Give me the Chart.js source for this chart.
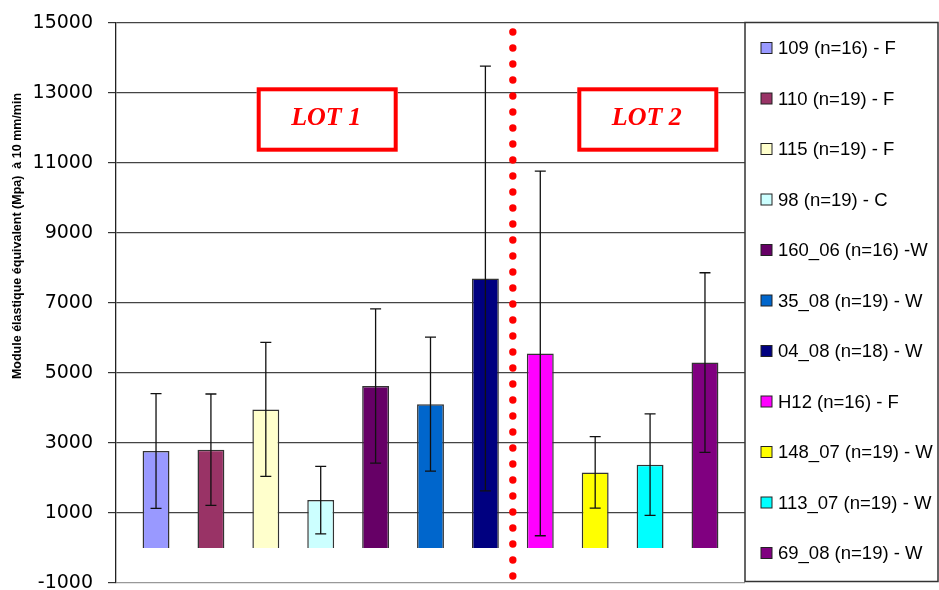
<!DOCTYPE html>
<html>
<head>
<meta charset="utf-8">
<script src="https://cdn.jsdelivr.net/npm/chart.js@4.4.1/dist/chart.umd.min.js"></script>
<style>
  html, body { margin: 0; padding: 0; background: #fff; }
  #wrap { width: 939px; height: 590px; position: relative; }
</style>
</head>
<body>
<div id="wrap"><canvas id="chart-bars"></canvas></div>
<script>
// Data
var seriesLabels = ['109 (n=16) - F', '110 (n=19) - F', '115 (n=19) - F', '98 (n=19) - C',
  '160_06 (n=16) -W', '35_08 (n=19) - W', '04_08 (n=18) - W', 'H12 (n=16) - F',
  '148_07 (n=19) - W', '113_07 (n=19) - W', '69_08 (n=19) - W'];
var means   = [2770, 2810, 3960, 1370, 4630, 4110, 7700, 5560, 2160, 2380, 5300];
var stdDevs = [1640, 1590, 1915, 965, 2205, 1915, 6070, 5210, 1020, 1450, 2565];
var colors  = ['#9999FF', '#993366', '#FFFFCC', '#CCFFFF', '#660066', '#0066CC',
  '#000080', '#FF00FF', '#FFFF00', '#00FFFF', '#800080'];
var lotLabels = ['LOT 1', 'LOT 2'];
var lotSplitAfter = 6; // index of last series in LOT 1
var yMin = -1000, yMax = 15000, yStep = 2000;
var yTitle = 'Module élastique équivalent (Mpa)  à 10 mm/min';

var datasets = seriesLabels.map(function(lbl, i) {
  return {
    label: lbl,
    data: [means[i]],
    backgroundColor: colors[i],
    borderColor: '#333333',
    borderWidth: 1.5,
    categoryPercentage: 0.96,
    barPercentage: 0.49
  };
});

var extrasPlugin = {
  id: 'extras',
  afterDraw: function(chart) {
    var ctx = chart.ctx, area = chart.chartArea, y = chart.scales.y;
    ctx.save();

    // error bars
    ctx.strokeStyle = '#111';
    ctx.lineWidth = 1.3;
    chart.data.datasets.forEach(function(ds, i) {
      var bar = chart.getDatasetMeta(i).data[0];
      var top = y.getPixelForValue(means[i] + stdDevs[i]);
      var bot = y.getPixelForValue(means[i] - stdDevs[i]);
      ctx.beginPath();
      ctx.moveTo(bar.x, top); ctx.lineTo(bar.x, bot);
      ctx.moveTo(bar.x - 5.5, top); ctx.lineTo(bar.x + 5.5, top);
      ctx.moveTo(bar.x - 5.5, bot); ctx.lineTo(bar.x + 5.5, bot);
      ctx.stroke();
    });

    // red dotted divider between the two lots
    var a = chart.getDatasetMeta(lotSplitAfter).data[0];
    var b = chart.getDatasetMeta(lotSplitAfter + 1).data[0];
    var xs = (a.x + b.x) / 2;
    ctx.fillStyle = '#FF0000';
    for (var yy = area.top + 9; yy < area.bottom - 2; yy += 16) {
      ctx.beginPath();
      ctx.arc(xs, yy, 3.7, 0, Math.PI * 2);
      ctx.fill();
    }

    // LOT boxes
    var boxLefts = [area.left + 140.7, area.left + 461.3];
    lotLabels.forEach(function(t, k) {
      var bx = boxLefts[k], by = area.top + 64.3, bw = 141, bh = 64.4;
      ctx.fillStyle = '#fff';
      ctx.fillRect(bx, by, bw, bh);
      ctx.strokeStyle = '#FF0000';
      ctx.lineWidth = 4;
      ctx.strokeRect(bx + 2, by + 2, bw - 4, bh - 4);
      ctx.fillStyle = '#FF0000';
      ctx.font = 'italic bold 26px "Liberation Serif", "Times New Roman", serif';
      ctx.textAlign = 'center';
      ctx.textBaseline = 'middle';
      ctx.fillText(t, bx + bw / 2 - 1, by + bh / 2 - 1);
    });

    // y axis title
    ctx.save();
    ctx.translate(18, 236);
    ctx.rotate(-Math.PI / 2);
    ctx.fillStyle = '#000';
    ctx.font = 'bold 12.5px "Liberation Sans", Arial, sans-serif';
    ctx.textAlign = 'center';
    ctx.textBaseline = 'middle';
    ctx.fillText(yTitle, 0, 0);
    ctx.restore();

    // legend box
    var lx = area.right, ly = area.top - 0.5, lw = 938 - area.right, lh = area.bottom - 1.5 - ly;
    ctx.fillStyle = '#fff';
    ctx.fillRect(lx, ly, lw, lh);
    ctx.strokeStyle = '#333';
    ctx.lineWidth = 1.5;
    ctx.strokeRect(lx, ly, lw, lh);
    ctx.font = '18.5px "Liberation Sans", Arial, sans-serif';
    ctx.textAlign = 'left';
    ctx.textBaseline = 'middle';
    chart.data.datasets.forEach(function(ds, i) {
      var cy = ly + 25.5 + i * 50.5;
      ctx.fillStyle = ds.backgroundColor;
      ctx.fillRect(lx + 16, cy - 5.5, 11, 11);
      ctx.strokeStyle = '#222';
      ctx.lineWidth = 1;
      ctx.strokeRect(lx + 16, cy - 5.5, 11, 11);
      ctx.fillStyle = '#000';
      ctx.fillText(ds.label, lx + 33, cy + 1);
    });

    ctx.restore();
  }
};

var barsChart = new Chart(document.getElementById('chart-bars').getContext('2d'), {
  type: 'bar',
  data: {
    labels: [''],
    datasets: datasets
  },
  plugins: [extrasPlugin],
  options: {
    responsive: true,
    maintainAspectRatio: false,
    animation: false,
    layout: { padding: { left: 16, top: 23, right: 194, bottom: 7 } },
    plugins: {
      legend: { display: false },
      tooltip: { enabled: false }
    },
    scales: {
      x: { display: false },
      y: {
        min: yMin,
        max: yMax,
        ticks: {
          stepSize: yStep,
          padding: 15,
          color: '#000',
          font: { family: '"DejaVu Sans", sans-serif', size: 19 },
          callback: function(v) { return String(v); }
        },
        grid: {
          color: function(c) { return c.tick && c.tick.value === yMin ? '#999' : '#444'; },
          lineWidth: 1.2,
          tickLength: 8,
          tickColor: '#333'
        },
        border: { display: true, color: '#222', width: 1.3 },
        afterFit: function(scale) {
          scale.width = 100;
          scale.paddingTop = 0;
          scale.paddingBottom = 0;
        }
      }
    }
  }
});
</script>
</body>
</html>
